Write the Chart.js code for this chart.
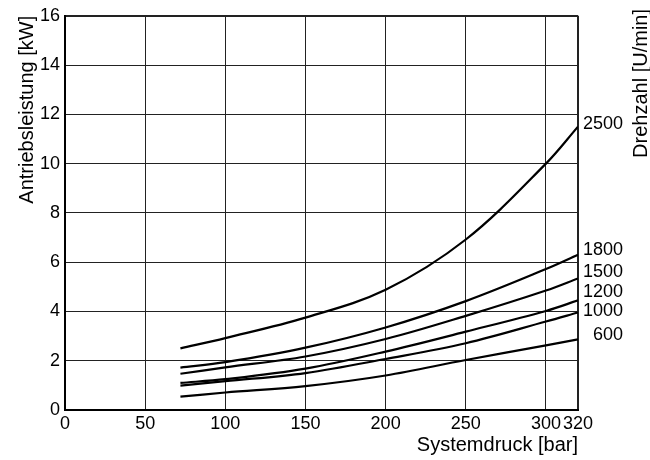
<!DOCTYPE html>
<html>
<head>
<meta charset="utf-8">
<script src="https://cdn.jsdelivr.net/npm/chart.js@4/dist/chart.umd.min.js"></script>
<style>
  html, body { margin: 0; padding: 0; background: #fff; }
  #wrap { width: 650px; height: 460px; }
</style>
</head>
<body>
<div id="wrap"><canvas id="chart" width="650" height="460"></canvas></div>
<script>
// Systemdruck [bar]
const pressure = [72, 100, 150, 200, 250, 300, 320];
// Antriebsleistung [kW] je Drehzahl
const speeds = ["2500", "1800", "1500", "1200", "1000", "600"];
const p2500 = [2.50, 2.92, 3.75, 4.88, 6.92, 10.0, 11.5];
const p1800 = [1.72, 1.94, 2.53, 3.35, 4.42, 5.72, 6.30];
const p1500 = [1.47, 1.73, 2.17, 2.88, 3.82, 4.85, 5.34];
const p1200 = [1.10, 1.25, 1.68, 2.37, 3.18, 4.02, 4.45];
const p1000 = [0.99, 1.17, 1.50, 2.07, 2.71, 3.59, 3.96];
const p600  = [0.54, 0.71, 0.97, 1.40, 2.03, 2.62, 2.87];
const xTicks = [0, 50, 100, 150, 200, 250, 300, 320];
const yTicks = [0, 2, 4, 6, 8, 10, 12, 14, 16];

const series = [p2500, p1800, p1500, p1200, p1000, p600];
const FONT = "'Liberation Sans', Arial, sans-serif";

// small vertical nudges so the speed labels don't collide
const labelShift = [-3, -5, -6, -8, -1, -4];

const endLabels = {
    id: 'endLabels',
    afterDatasetsDraw(chart) {
        const ctx = chart.ctx;
        const area = chart.chartArea;
        const ys = chart.scales.y;
        ctx.save();
        ctx.font = "18px " + FONT;
        ctx.fillStyle = "#000";
        ctx.textAlign = "right";
        ctx.textBaseline = "middle";
        series.forEach((s, i) => {
            const y = ys.getPixelForValue(s[s.length - 1]) + labelShift[i];
            ctx.fillText(speeds[i], area.right + 45, y);
        });
        // right axis title
        ctx.font = "20px " + FONT;
        ctx.translate(641, 9);
        ctx.rotate(-Math.PI / 2);
        ctx.textAlign = "right";
        ctx.fillText("Drehzahl [U/min]", 0, 0);
        ctx.restore();
    }
};

const edgeWidth = (ctx, max) => (ctx.tick && ctx.tick.value === max ? 2 : 1);

new Chart(document.getElementById('chart'), {
    type: 'line',
    data: {
        datasets: series.map((s, i) => ({
            label: speeds[i],
            data: pressure.map((x, j) => ({x: x, y: s[j]})),
            borderColor: '#000',
            borderWidth: 2.2,
            pointRadius: 0,
            fill: false,
            tension: 0.35
        }))
    },
    options: {
        responsive: false,
        animation: false,
        layout: { padding: { top: 12, right: 72, left: 0, bottom: 0 } },
        plugins: { legend: { display: false }, tooltip: { enabled: false } },
        scales: {
            x: {
                type: 'linear',
                min: 0, max: 320,
                afterBuildTicks: s => { s.ticks = xTicks.map(v => ({value: v})); },
                afterFit: s => { s.height = 50; },
                grid: { color: '#222', lineWidth: c => edgeWidth(c, 320), drawTicks: false },
                border: { color: '#000', width: 2 },
                ticks: { color: '#000', font: { family: FONT, size: 18 }, padding: 3, maxRotation: 0, autoSkip: false },
                title: { display: true, text: 'Systemdruck [bar]', align: 'end', color: '#000',
                         font: { family: FONT, size: 20 }, padding: { top: 0, bottom: 3 } }
            },
            y: {
                min: 0, max: 16,
                afterBuildTicks: s => { s.ticks = yTicks.map(v => ({value: v})); },
                afterFit: s => { s.width = 65; },
                grid: { color: '#222', lineWidth: c => edgeWidth(c, 16), drawTicks: false },
                border: { color: '#000', width: 2 },
                ticks: { color: '#000', font: { family: FONT, size: 18 }, padding: 5 },
                title: { display: true, text: 'Antriebsleistung [kW]', align: 'end', color: '#000',
                         font: { family: FONT, size: 20 }, padding: { top: 15, bottom: 0 } }
            }
        }
    },
    plugins: [endLabels]
});
</script>
</body>
</html>
